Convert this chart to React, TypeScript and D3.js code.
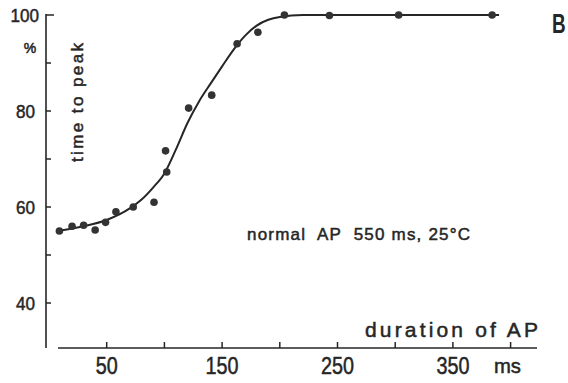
import * as d3 from 'd3';

// measured points: AP duration (ms) vs time to peak (%)
const durations = [9, 20, 30, 40, 49, 58, 73, 91, 101, 102, 121, 141, 163, 181, 204, 243, 303, 384];
const timeToPeak = [55, 56, 56.2, 55.2, 56.8, 59, 60, 61, 71.7, 67.3, 80.6, 83.3, 94, 96.4, 100, 99.9, 100, 100];

// fitted curve
const curveX = [7, 30, 50, 70, 80, 90, 100, 110, 120, 130, 140, 150, 160, 170, 180, 190, 200, 220, 260, 390];
const curveY = [55, 56, 57.3, 59.7, 61.5, 64, 67, 72, 77.5, 82, 85.7, 89.3, 92.8, 95.7, 97.8, 99, 99.6, 100, 100, 100];

const xTicks = [50, 100, 150, 200, 250, 300, 350, 400];
const xTickLabels = ['50', '150', '250', '350'];
const yTicks = [40, 50, 60, 70, 80, 90, 100];
const yTickLabels = ['40', '60', '80', '100'];

const W = 568;
const H = 383;
const ink = '#262626';
const font = '"Liberation Sans", "DejaVu Sans", sans-serif';

export default function App() {
  const x = d3.scaleLinear().domain([0, 400]).range([49, 510.6]);
  const y = d3.scaleLinear().domain([40, 100]).range([303, 15]);

  const line = d3
    .line<number>()
    .x((d) => x(d))
    .y((_, i) => y(curveY[i]))
    .curve(d3.curveMonotoneX);

  const axisY = 348;
  const axisX = 46;
  const textStroke = { stroke: ink, strokeWidth: 0.5 };

  return (
    <div style={{ position: 'absolute', left: 0, top: 0 }}>
      <svg width={W} height={H} viewBox={`0 0 ${W} ${H}`} style={{ display: 'block', background: '#fff' }}>
        {/* y axis */}
        <line x1={axisX} x2={axisX} y1={y(100) - 1} y2={axisY} stroke={ink} strokeWidth={1.6} />
        {yTicks.map((t) => (
          <line key={t} x1={axisX} x2={axisX + (t === 100 ? 8 : 5)} y1={y(t)} y2={y(t)} stroke={ink} strokeWidth={1.5} />
        ))}
        {yTickLabels.map((t) => (
          <text
            key={t}
            x={t === '100' ? 39 : 35}
            y={y(+t) + 7}
            textAnchor="end"
            fontFamily={font}
            fontSize={19}
            fill={ink}
            textLength={t.length * 9.5}
            lengthAdjust="spacingAndGlyphs"
            {...textStroke}
          >
            {t}
          </text>
        ))}
        <text x={30} y={53} textAnchor="middle" fontFamily={font} fontSize={14} fill={ink} {...textStroke}>
          %
        </text>

        {/* x axis */}
        <line x1={58} x2={537} y1={axisY} y2={axisY} stroke={ink} strokeWidth={1.6} />
        {xTicks.map((t) => (
          <line key={t} x1={x(t)} x2={x(t)} y1={axisY} y2={axisY - 6} stroke={ink} strokeWidth={1.5} />
        ))}
        {xTickLabels.map((t) => (
          <text
            key={t}
            x={x(+t) - (t.length * 11) / 2}
            y={374}
            fontFamily={font}
            fontSize={24}
            fill={ink}
            textLength={t.length * 11}
            lengthAdjust="spacingAndGlyphs"
            {...textStroke}
          >
            {t}
          </text>
        ))}
        <text x={494} y={373} fontFamily={font} fontSize={20} fill={ink} textLength={27} lengthAdjust="spacingAndGlyphs" {...textStroke}>
          ms
        </text>

        {/* curve */}
        <path d={line(curveX) ?? ''} fill="none" stroke={ink} strokeWidth={2} />

        {/* points */}
        {durations.map((d, i) => (
          <circle key={i} cx={x(d)} cy={y(timeToPeak[i])} r={3.8} fill="#333" />
        ))}

        {/* labels */}
        <text
          transform="translate(83,162) rotate(-90)"
          fontFamily={font}
          fontSize={17}
          fill={ink}
          textLength={119}
          lengthAdjust="spacing"
          {...textStroke}
        >
          time to peak
        </text>
        <text
          x={247}
          y={240}
          fontFamily={font}
          fontSize={17}
          fill={ink}
          textLength={223}
          lengthAdjust="spacing"
          style={{ whiteSpace: 'pre' }}
          {...textStroke}
        >
          {'normal  AP  550 ms, 25°C'}
        </text>
        <text x={365} y={337} fontFamily={font} fontSize={21} fill={ink} textLength={173} lengthAdjust="spacing" {...textStroke}>
          duration of AP
        </text>
        <text transform="translate(552,33) scale(0.7,1)" fontFamily={font} fontSize={27} fontWeight="bold" fill={ink}>
          B
        </text>
      </svg>
    </div>
  );
}
